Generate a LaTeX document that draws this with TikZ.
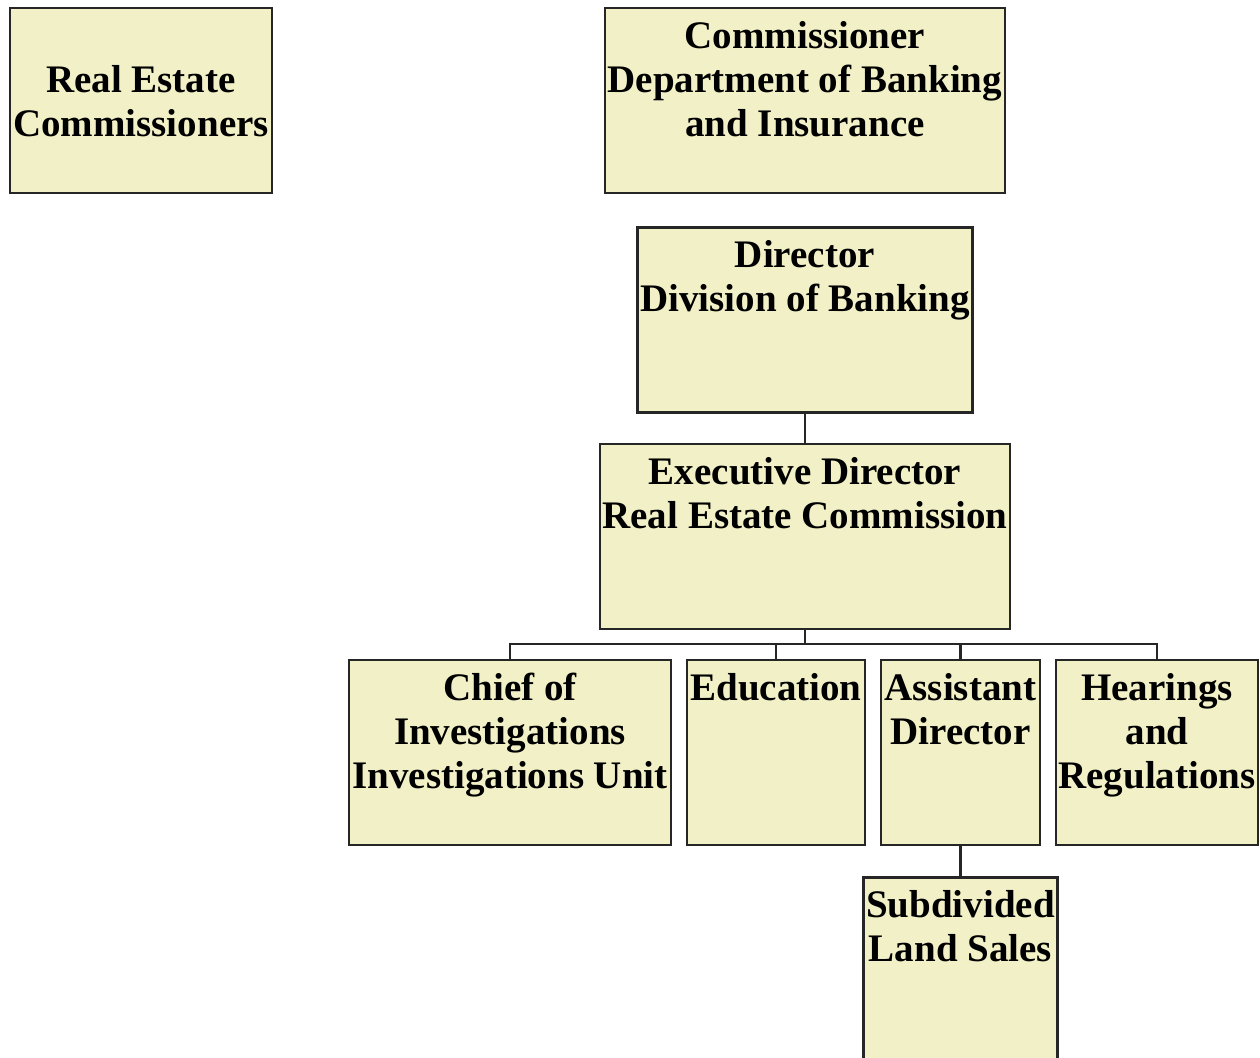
\documentclass[tikz,border=0pt]{standalone}
\usepackage{fontspec}
\setmainfont{Liberation Serif}
\definecolor{boxfill}{RGB}{242,240,198}
\begin{document}
\begin{tikzpicture}[x=0.5pt,y=-0.5pt,
  box/.style={draw=black!85, fill=boxfill, line width=1.1pt, rectangle, inner sep=0pt, minimum height=92.5pt},
  txt/.style={inner sep=0pt, align=center, font=\fontsize{19.5}{22}\selectfont\bfseries, anchor=north},
  conn/.style={draw=black!85, line width=1.3pt}]
\useasboundingbox (0,0) rectangle (1260,1057);
% boxes
\node[box, minimum width=131pt] (rec) at (141,100.5) {};
\node[box, minimum width=200pt] (com) at (805,100.5) {};
\node[box, minimum width=167.5pt] (dir) at (805,320) {};
\node[box, minimum width=205pt] (exe) at (805,536.5) {};
\node[box, minimum width=161pt] (chief) at (510,752.5) {};
\node[box, minimum width=89pt] (edu) at (776,752.5) {};
\node[box, minimum width=79.5pt] (asst) at (960.5,752.5) {};
\node[box, minimum width=101pt] (hear) at (1157,752.5) {};
\node[box, minimum width=97pt] (sub) at (960.5,970) {};
% texts
\node[txt, anchor=center] (recT) at ([yshift=-0.5pt]rec.center) {Real Estate\\Commissioners};
\node[txt] (comT) at ([yshift=-7pt]com.north) {Commissioner\\Department of Banking\\and Insurance};
\node[txt] (dirT) at ([yshift=-7pt]dir.north) {Director\\Division of Banking};
\node[txt] (exeT) at ([yshift=-7pt]exe.north) {Executive Director\\Real Estate Commission};
\node[txt] (chiefT) at ([yshift=-7pt]chief.north) {Chief of\\Investigations\\Investigations Unit};
\node[txt] (eduT) at ([yshift=-7pt]edu.north) {Education};
\node[txt] (asstT) at ([yshift=-7pt]asst.north) {Assistant\\Director};
\node[txt] (hearT) at ([yshift=-7pt]hear.north) {Hearings\\and\\Regulations};
\node[txt] (subT) at ([yshift=-7pt]sub.north) {Subdivided\\Land Sales};
% connectors
\coordinate (bus) at (805,644);
\draw[conn] (dir.south) -- (exe.north);
\draw[conn] (exe.south) -- (exe.south |- bus);
\draw[conn] (chief.north) -- (chief.north |- bus) -- (hear.north |- bus) -- (hear.north);
\draw[conn] (edu.north) -- (edu.north |- bus);
\draw[conn] (asst.north) -- (asst.north |- bus);
\draw[conn] (asst.south) -- (sub.north);
\end{tikzpicture}
\end{document}
